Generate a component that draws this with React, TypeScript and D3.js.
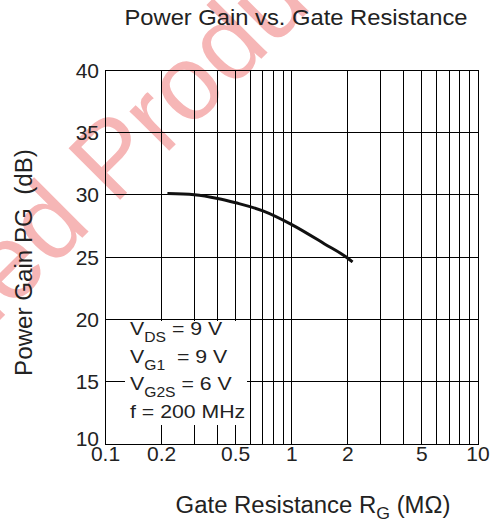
import React from 'react'
import * as d3 from 'd3'

// gate resistance (MOhm) vs power gain (dB)
const R_G = [0.215, 0.3, 0.4, 0.5, 0.7, 1, 1.5, 2, 2.12]
const POWER_GAIN = [30.1, 30.0, 29.7, 29.35, 28.7, 27.6, 26.05, 24.9, 24.6]

const X_TICKS = [0.1, 0.2, 0.5, 1, 2, 5, 10]
const Y_TICKS = [10, 15, 20, 25, 30, 35, 40]

const COND_SYMBOL = ['V', 'V', 'V', 'f']
const COND_SUB = ['DS', 'G1', 'G2S', '']
const COND_VALUE = [' = 9 V', '  = 9 V', ' = 6 V', ' = 200 MHz']

const FONT = '"Liberation Sans", Arial, Helvetica, sans-serif'
const WIDTH = 496
const HEIGHT = 528
const PLOT = { left: 105.5, right: 478, top: 70, bottom: 444 }

const App = () => {
  const x = d3.scaleLog().domain([0.1, 10]).range([PLOT.left, PLOT.right])
  const y = d3.scaleLinear().domain([10, 40]).range([PLOT.bottom, PLOT.top])

  const gridX = x.ticks()
  const gridY = Y_TICKS.slice(1, -1)

  const points: [number, number][] = R_G.map((r, i) => [r, POWER_GAIN[i]])
  const line = d3.line<[number, number]>()
    .x(d => x(d[0]))
    .y(d => y(d[1]))
    .curve(d3.curveMonotoneX)

  const fmt = (v: number) => (v < 1 ? String(v) : d3.format('d')(v))

  return (
    <svg
      width={WIDTH}
      height={HEIGHT}
      style={{ position: 'absolute', left: 0, top: 0, background: '#fff' }}
      fontFamily={FONT}
    >
      {/* watermark */}
      <g transform="translate(114,206) rotate(-45)" fill="#f6b6b6" fontSize={106}>
        <text x={-29} textAnchor="end">Discontinued</text>
        <text x={0}>Product</text>
      </g>

      {/* grid */}
      <g stroke="#000" strokeWidth={1} shapeRendering="crispEdges">
        {gridX.map(v => (
          <line key={'gx' + v} x1={x(v)} x2={x(v)} y1={PLOT.top} y2={PLOT.bottom} />
        ))}
        {gridY.map(v => (
          <line key={'gy' + v} x1={PLOT.left} x2={PLOT.right} y1={y(v)} y2={y(v)} />
        ))}
        <rect
          x={PLOT.left}
          y={PLOT.top}
          width={PLOT.right - PLOT.left}
          height={PLOT.bottom - PLOT.top}
          fill="none"
        />
      </g>

      {/* curve */}
      <path d={line(points) || ''} fill="none" stroke="#111" strokeWidth={3} />

      {/* conditions box */}
      <rect x={125} y={321} width={122} height={104} fill="#fff" />
      {COND_SYMBOL.map((s, i) => (
        <g key={'c' + i} transform={`translate(130,${335 + i * 27.7}) scale(1.12,1)`}>
          <text fontSize={19} fill="#222" style={{ whiteSpace: 'pre' }}>
            {s}
            {COND_SUB[i] ? (
              <tspan fontSize={14} dy={7}>{COND_SUB[i]}</tspan>
            ) : null}
            <tspan dy={COND_SUB[i] ? -7 : 0}>{COND_VALUE[i]}</tspan>
          </text>
        </g>
      ))}

      {/* tick labels */}
      <g fontSize={21} fill="#222">
        {Y_TICKS.map(v => (
          <text key={'yt' + v} x={99} y={y(v) + (v === 10 ? 1.5 : 7.5)} textAnchor="end">{v}</text>
        ))}
        {X_TICKS.map(v => (
          <text key={'xt' + v} x={x(v)} y={461} textAnchor="middle">{fmt(v)}</text>
        ))}
      </g>

      {/* titles */}
      <g transform="translate(296,25) scale(1.08,1)">
        <text fontSize={22} textAnchor="middle" fill="#222">Power Gain vs. Gate Resistance</text>
      </g>
      <g transform="translate(313,513) scale(1.04,1)">
        <text fontSize={23} textAnchor="middle" fill="#222">
          Gate Resistance R<tspan fontSize={17} dy={6}>G</tspan>
          <tspan dy={-6}> (MΩ)</tspan>
        </text>
      </g>
      <g transform="translate(31.7,262.5) rotate(-90) scale(1.05,1)">
        <text fontSize={23} textAnchor="middle" fill="#222" style={{ whiteSpace: 'pre' }}>
          {'Power Gain PG  (dB)'}
        </text>
      </g>
    </svg>
  )
}

export default App
